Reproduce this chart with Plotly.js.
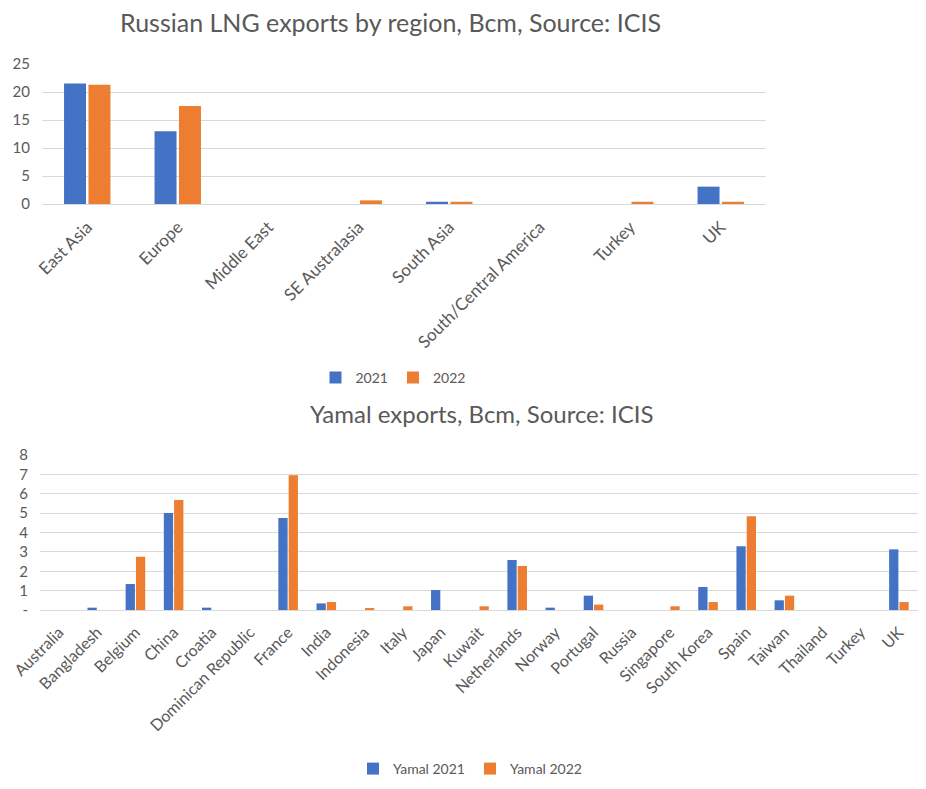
<!DOCTYPE html>
<html>
<head>
<meta charset="utf-8">
<script src="https://cdn.plot.ly/plotly-3.0.1.min.js"></script>
<style>html,body{margin:0;padding:0;background:#fff;}#chart{width:926px;height:789px;}</style>
</head>
<body>
<div id="chart"></div>
<script>
// Top chart data
const regions = ["East Asia", "Europe", "Middle East", "SE Australasia", "South Asia", "South/Central America", "Turkey", "UK"];
const region2021 = [21.5, 13.0, 0, 0, 0.4, 0, 0, 3.1];
const region2022 = [21.3, 17.5, 0, 0.65, 0.4, 0, 0.4, 0.4];

// Bottom chart data
const countries = ["Australia", "Bangladesh", "Belgium", "China", "Croatia", "Dominican Republic", "France", "India", "Indonesia", "Italy", "Japan", "Kuwait", "Netherlands", "Norway", "Portugal", "Russia", "Singapore", "South Korea", "Spain", "Taiwan", "Thailand", "Turkey", "UK"];
const yamal2021 = [0, 0.12, 1.34, 5.0, 0.12, 0, 4.75, 0.34, 0, 0, 1.03, 0, 2.58, 0.12, 0.74, 0, 0, 1.19, 3.29, 0.5, 0, 0, 3.13];
const yamal2022 = [0, 0, 2.75, 5.68, 0, 0, 6.95, 0.41, 0.1, 0.19, 0, 0.19, 2.27, 0, 0.28, 0, 0.19, 0.41, 4.84, 0.74, 0, 0, 0.41];

const topTicks = [0, 5, 10, 15, 20, 25];
const bottomTicks = [0, 1, 2, 3, 4, 5, 6, 7, 8];
const bottomTickText = ["-", "1", "2", "3", "4", "5", "6", "7", "8"];

const W = 926, H = 789;
const blue = "#4472C4", orange = "#ED7D31";
const fontFam = "Lato, 'Open Sans', sans-serif";
const grey = "#595959";

const traces = [
  {type: "bar", name: "2021", x: regions, y: region2021, marker: {color: blue}, xaxis: "x", yaxis: "y", legend: "legend"},
  {type: "bar", name: "2022", x: regions, y: region2022, marker: {color: orange}, xaxis: "x", yaxis: "y", legend: "legend"},
  {type: "bar", name: "Yamal 2021", x: countries, y: yamal2021, marker: {color: blue}, xaxis: "x2", yaxis: "y2", legend: "legend2"},
  {type: "bar", name: "Yamal 2022", x: countries, y: yamal2022, marker: {color: orange}, xaxis: "x2", yaxis: "y2", legend: "legend2"}
];

const gridColor = "#d9d9d9";

const layout = {
  width: W, height: H,
  margin: {l: 0, r: 0, t: 0, b: 0},
  paper_bgcolor: "#fff", plot_bgcolor: "#fff",
  font: {family: fontFam, color: grey},
  barmode: "group",
  bargap: 0.46,
  bargroupgap: 0.1,
  showlegend: true,
  xaxis: {
    domain: [42 / W, 766 / W], anchor: "y",
    tickangle: -45, tickfont: {family: fontFam, size: 17, color: grey}, showgrid: false, zeroline: false,
    showline: false, ticks: "", ticklabelstandoff: 9, fixedrange: true
  },
  yaxis: {
    domain: [1 - 204 / H, 1 - 64 / H], anchor: "x",
    range: [0, 25], tickvals: topTicks, tickfont: {family: fontFam, size: 15, color: grey},
    showgrid: true, gridcolor: gridColor, gridwidth: 1, zeroline: true, zerolinecolor: gridColor, zerolinewidth: 1,
    ticks: "outside", ticklen: 8, tickcolor: "rgba(0,0,0,0)", fixedrange: true
  },
  xaxis2: {
    domain: [40 / W, 918 / W], anchor: "y2",
    tickangle: -45, tickfont: {family: fontFam, size: 16, color: grey}, showgrid: false, zeroline: false,
    showline: false, ticks: "", ticklabelstandoff: 9, fixedrange: true
  },
  yaxis2: {
    domain: [1 - 610 / H, 1 - 455 / H], anchor: "x2",
    range: [0, 8], tickvals: bottomTicks, ticktext: bottomTickText,
    tickfont: {family: fontFam, size: 15, color: grey},
    showgrid: true, gridcolor: gridColor, gridwidth: 1, zeroline: true, zerolinecolor: gridColor, zerolinewidth: 1,
    ticks: "outside", ticklen: 8, tickcolor: "rgba(0,0,0,0)", fixedrange: true
  },
  legend: {
    orientation: "h", x: 393 / W, xanchor: "center", y: 1 - 378 / H, yanchor: "middle",
    font: {family: fontFam, size: 14, color: grey}, bgcolor: "rgba(0,0,0,0)", itemwidth: 30
  },
  legend2: {
    orientation: "h", x: 470 / W, xanchor: "center", y: 1 - 769 / H, yanchor: "middle",
    font: {family: fontFam, size: 14, color: grey}, bgcolor: "rgba(0,0,0,0)", itemwidth: 30
  },
  annotations: [
    {text: "Russian LNG exports by region, Bcm, Source: ICIS", xref: "paper", yref: "paper",
     x: 390 / W, y: 1 - 22 / H, xanchor: "center", yanchor: "middle", showarrow: false,
     font: {family: fontFam, size: 25, color: grey}},
    {text: "Yamal exports, Bcm, Source: ICIS", xref: "paper", yref: "paper",
     x: 482 / W, y: 1 - 413 / H, xanchor: "center", yanchor: "middle", showarrow: false,
     font: {family: fontFam, size: 24, color: grey}}
  ]
};

Plotly.newPlot("chart", traces, layout, {displayModeBar: false, staticPlot: true});
</script>
</body>
</html>
